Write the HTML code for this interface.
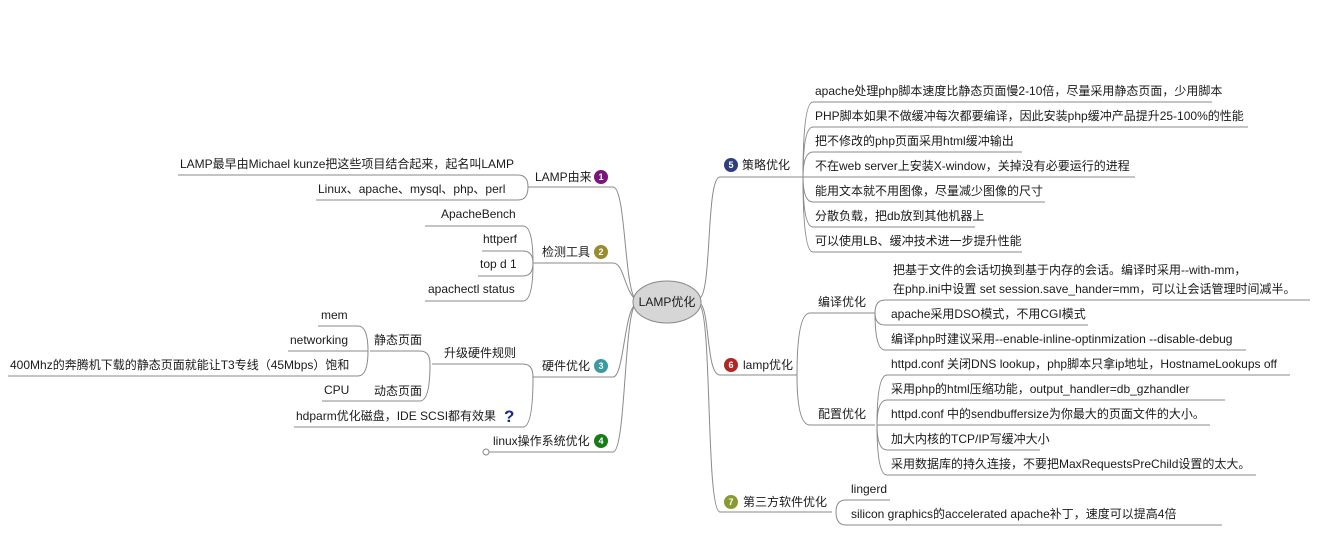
<!DOCTYPE html>
<html><head><meta charset="utf-8"><style>
html,body{margin:0;padding:0;background:#fff;}
svg{display:block;}
text{font-family:"Liberation Sans","Noto Sans CJK SC",sans-serif;font-size:12px;fill:#1a1a1a;}
.b{fill:#fff;font-size:9px;font-weight:bold;text-anchor:middle;}
path{fill:none;stroke:#8a8a8a;stroke-width:1;}
</style></head><body>
<svg width="1339" height="549" viewBox="0 0 1339 549">
<!-- trunks left -->
<path d="M528 187 H613 C626 187 624 290 636 300"/>
<path d="M533 263 H613 C624 263 624 290 636 300"/>
<path d="M533 377 H613 C624 377 624 310 636 304"/>
<path d="M488 452 H613 C626 452 624 310 636 304"/>
<circle cx="486" cy="452" r="3" fill="#fff" stroke="#888"/>
<!-- trunks right -->
<path d="M700 298 C712 290 706 177 720 177 H803"/>
<path d="M700 303 C710 310 706 375 720 375 H797"/>
<path d="M700 305 C712 320 706 512 720 512 H832"/>
<!-- node1 children -->
<path d="M178 175 H518 Q528 175 528 187"/>
<path d="M316 200 H518 Q528 200 528 187"/>
<!-- node2 children -->
<path d="M425 226 H523 Q533 226 533 263"/>
<path d="M482 251 H523 Q533 251 533 263"/>
<path d="M478 276 H523 Q533 276 533 263"/>
<path d="M425 301 H523 Q533 301 533 263"/>
<!-- node3 children -->
<path d="M432 364 H523 Q533 364 533 377"/>
<path d="M294 427 H523 Q533 427 533 377"/>
<path d="M370 351 H420 Q430 351 430 364"/>
<path d="M370 401 H420 Q430 401 430 364"/>
<path d="M318 326 H358 Q368 326 368 351"/>
<path d="M288 351 H368"/>
<path d="M8 376 H358 Q368 376 368 351"/>
<path d="M322 401 H370"/>
<!-- node5 children -->
<path d="M803 177 Q803 102 813 102 H1212"/>
<path d="M803 177 Q803 127 813 127 H1248"/>
<path d="M803 177 Q803 152 813 152 H1022"/>
<path d="M803 177 H1135"/>
<path d="M803 177 Q803 202 813 202 H1045"/>
<path d="M803 177 Q803 227 813 227 H975"/>
<path d="M803 177 Q803 252 813 252 H1022"/>
<!-- node6 -->
<path d="M797 375 Q797 313 810 313 H875"/>
<path d="M797 375 Q797 425 810 425 H875"/>
<path d="M875 313 Q875 300 885 300 H1310"/>
<path d="M875 313 Q875 325 885 325 H1088"/>
<path d="M875 313 Q875 350 885 350 H1246"/>
<path d="M877 425 Q877 375 887 375 H1290"/>
<path d="M877 425 Q877 400 887 400 H1225"/>
<path d="M877 425 H1210"/>
<path d="M877 425 Q877 450 887 450 H1040"/>
<path d="M877 425 Q877 475 887 475 H1256"/>
<!-- node7 -->
<path d="M836 512 Q836 500 846 500 H890"/>
<path d="M836 512 Q836 525 846 525 H1222"/>

<!-- center -->
<ellipse cx="667" cy="302" rx="34" ry="21" fill="#d6d6d6" stroke="#888"/>
<text x="667" y="306" text-anchor="middle">LAMP优化</text>

<!-- left labels -->
<text x="535" y="181">LAMP由来</text>
<circle cx="601" cy="177" r="7" fill="#7a1580"/><text class="b" x="601" y="180">1</text>
<text x="180" y="168">LAMP最早由Michael kunze把这些项目结合起来，起名叫LAMP</text>
<text x="318" y="193">Linux、apache、mysql、php、perl</text>
<text x="542" y="256">检测工具</text>
<circle cx="601" cy="252" r="7" fill="#9a8a30"/><text class="b" x="601" y="255">2</text>
<text x="441" y="218">ApacheBench</text>
<text x="483" y="243">httperf</text>
<text x="480" y="268">top d 1</text>
<text x="428" y="293">apachectl status</text>
<text x="542" y="370">硬件优化</text>
<circle cx="601" cy="366" r="7" fill="#3a9aa0"/><text class="b" x="601" y="369">3</text>
<text x="444" y="357">升级硬件规则</text>
<text x="374" y="344">静态页面</text>
<text x="374" y="395">动态页面</text>
<text x="321" y="319">mem</text>
<text x="290" y="344">networking</text>
<text x="10" y="369">400Mhz的奔腾机下载的静态页面就能让T3专线（45Mbps）饱和</text>
<text x="324" y="394">CPU</text>
<text x="296" y="420">hdparm优化磁盘，IDE SCSI都有效果</text>
<text x="504" y="422" style="font-size:17px;font-weight:bold;fill:#1a2a8a">?</text>
<text x="493" y="445">linux操作系统优化</text>
<circle cx="601" cy="441" r="7" fill="#1a7a1a"/><text class="b" x="601" y="444">4</text>

<!-- right labels -->
<circle cx="731" cy="165" r="7" fill="#2e3e7e"/><text class="b" x="731" y="168">5</text>
<text x="742" y="169">策略优化</text>
<text x="815" y="95">apache处理php脚本速度比静态页面慢2-10倍，尽量采用静态页面，少用脚本</text>
<text x="815" y="120">PHP脚本如果不做缓冲每次都要编译，因此安装php缓冲产品提升25-100%的性能</text>
<text x="815" y="145">把不修改的php页面采用html缓冲输出</text>
<text x="815" y="170">不在web server上安装X-window，关掉没有必要运行的进程</text>
<text x="815" y="195">能用文本就不用图像，尽量减少图像的尺寸</text>
<text x="815" y="220">分散负载，把db放到其他机器上</text>
<text x="815" y="245">可以使用LB、缓冲技术进一步提升性能</text>

<circle cx="731" cy="365" r="7" fill="#b02525"/><text class="b" x="731" y="368">6</text>
<text x="743" y="369">lamp优化</text>
<text x="818" y="306">编译优化</text>
<text x="818" y="418">配置优化</text>
<text x="893" y="274">把基于文件的会话切换到基于内存的会话。编译时采用--with-mm，</text>
<text x="893" y="293">在php.ini中设置 set session.save_hander=mm，可以让会话管理时间减半。</text>
<text x="891" y="318">apache采用DSO模式，不用CGI模式</text>
<text x="891" y="343">编译php时建议采用--enable-inline-optinmization --disable-debug</text>
<text x="891" y="368">httpd.conf 关闭DNS lookup，php脚本只拿ip地址，HostnameLookups off</text>
<text x="891" y="393">采用php的html压缩功能，output_handler=db_gzhandler</text>
<text x="891" y="418">httpd.conf 中的sendbuffersize为你最大的页面文件的大小。</text>
<text x="891" y="443">加大内核的TCP/IP写缓冲大小</text>
<text x="891" y="468">采用数据库的持久连接，不要把MaxRequestsPreChild设置的太大。</text>

<circle cx="731" cy="502" r="7" fill="#8a9a30"/><text class="b" x="731" y="505">7</text>
<text x="743" y="506">第三方软件优化</text>
<text x="851" y="493">lingerd</text>
<text x="851" y="518">silicon graphics的accelerated apache补丁，速度可以提高4倍</text>
</svg>
</body></html>
